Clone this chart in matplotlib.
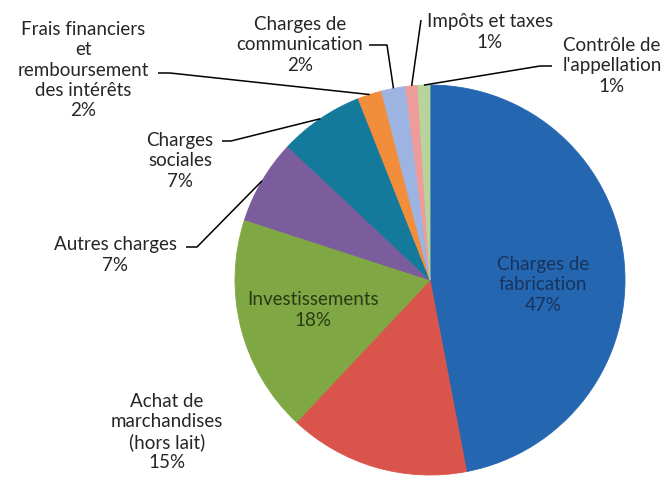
import numpy as np
import matplotlib
matplotlib.use("Agg")
import matplotlib.pyplot as plt

plt.rcParams['font.family'] = ['Lato', 'DejaVu Sans']

labels = ["Charges de\nfabrication", "Achat de\nmarchandises\n(hors lait)", "Investissements",
          "Autres charges", "Charges\nsociales", "Frais financiers\net\nremboursement\ndes intérêts",
          "Charges de\ncommunication", "Impôts et taxes", "Contrôle de\nl'appellation"]
values = [47, 15, 18, 7, 7, 2, 2, 1, 1]
colors = ['#2467B0', '#D9544A', '#7FA845', '#7B5C9C', '#147A9B', '#F28D3B', '#9DB3E1', '#EE9C9A', '#B7D49C']

W, H = 670, 495
fig = plt.figure(figsize=(W / 100, H / 100), dpi=100)

cx, cy, r = 430, 280, 195

# pie axes, pixel box with y up
pax = fig.add_axes([0, 0, 1, 1])
wedges, _ = pax.pie(values, colors=colors, startangle=90, counterclock=False,
                    center=(cx, H - cy), radius=r, frame=True)
for w, c in zip(wedges, colors):
    w.set_edgecolor(c)
    w.set_linewidth(0.6)
pax.set_xlim(0, W)
pax.set_ylim(0, H)
pax.set_aspect('equal')
pax.axis('off')

# overlay axes for text and leaders, pixel box with y down
ax = fig.add_axes([0, 0, 1, 1])
ax.set_xlim(0, W)
ax.set_ylim(H, 0)
ax.axis('off')
ax.patch.set_alpha(0)


def edge_point(i):
    w = wedges[i]
    t = np.deg2rad((w.theta1 + w.theta2) / 2)
    return cx + r * np.cos(t), cy - r * np.sin(t)


def lab(i, x, y, color='#262626'):
    ax.text(x, y, f"{labels[i]}\n{values[i]}%", ha='center', va='center',
            fontsize=13.5, color=color, linespacing=1.22)


def leader(i, pts):
    ex, ey = edge_point(i)
    xs = [p[0] for p in pts] + [ex]
    ys = [p[1] for p in pts] + [ey]
    ax.plot(xs, ys, color='black', lw=1.1, solid_capstyle='butt')


lab(0, 543, 285, color='#17335E')
lab(2, 313, 310, color='#2A3A12')
lab(1, 167, 432)
lab(3, 115, 255)
lab(4, 180, 161)
lab(5, 83, 70)
lab(6, 300, 45)
lab(7, 490, 32)
lab(8, 612, 66)

leader(5, [(158, 73), (170, 73)])
leader(6, [(369, 45), (387, 45)])
leader(7, [(421, 20)])
leader(8, [(552, 66), (540, 66)])
leader(4, [(222, 141), (231, 141)])
leader(3, [(186, 247), (197, 247)])

fig.savefig("out.png", dpi=100, facecolor='white')
